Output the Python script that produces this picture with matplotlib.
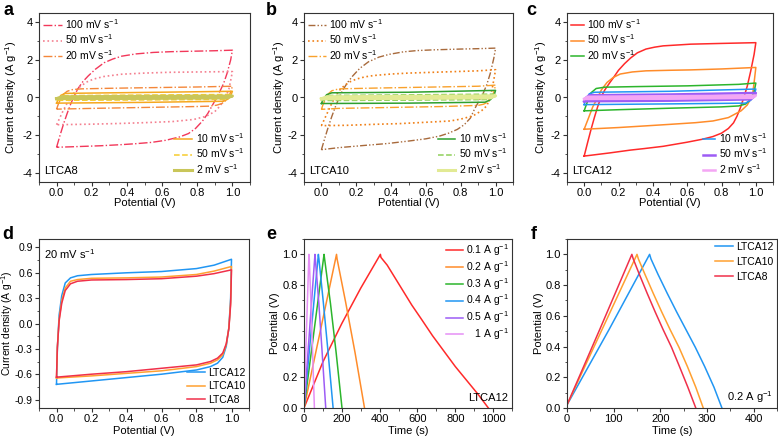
import numpy as np
import matplotlib
matplotlib.use("Agg")
import matplotlib.pyplot as plt
from matplotlib.ticker import MultipleLocator, AutoMinorLocator

plt.rcParams["font.family"] = ["Liberation Sans", "DejaVu Sans"]
plt.rcParams["mathtext.default"] = "regular"
plt.rcParams["axes.unicode_minus"] = False
plt.rcParams["font.size"] = 8

# ---------------- data ----------------
# panel a, LTCA8 CV loops: anodic branch (V up) then cathodic branch (V down)
a100_up_v = [0, 0.02, 0.04, 0.06, 0.08, 0.1, 0.12, 0.15, 0.18, 0.22, 0.27, 0.32, 0.37, 0.45, 0.55, 0.65, 0.8, 0.9, 1.0]
a100_up_i = [-2.65, -2.0, -1.4, -0.85, -0.35, 0.08, 0.45, 0.85, 1.15, 1.5, 1.85, 2.05, 2.2, 2.32, 2.4, 2.44, 2.47, 2.49, 2.52]
a100_lo_v = [1.0, 0.99, 0.97, 0.95, 0.92, 0.89, 0.86, 0.83, 0.79, 0.75, 0.7, 0.62, 0.54, 0.45, 0.37, 0.25, 0.1, 0]
a100_lo_i = [2.52, 2.0, 1.3, 0.75, 0.15, -0.35, -0.85, -1.25, -1.65, -1.92, -2.1, -2.28, -2.39, -2.46, -2.51, -2.57, -2.62, -2.65]
a50_up_v = [0, 0.02, 0.04, 0.06, 0.08, 0.1, 0.13, 0.17, 0.21, 0.27, 0.37, 0.5, 0.63, 0.8, 1.0]
a50_up_i = [-1.45, -1.05, -0.65, -0.3, 0.0, 0.25, 0.55, 0.82, 0.98, 1.12, 1.24, 1.3, 1.34, 1.36, 1.38]
a50_lo_v = [1.0, 0.99, 0.98, 0.96, 0.93, 0.9, 0.85, 0.78, 0.66, 0.5, 0.37, 0.2, 0]
a50_lo_i = [1.38, 0.9, 0.45, 0.0, -0.45, -0.75, -1.0, -1.17, -1.28, -1.34, -1.38, -1.42, -1.45]
a20_up_v = [0, 0.01, 0.025, 0.04, 0.06, 0.09, 0.14, 0.3, 0.5, 0.8, 1.0]
a20_up_i = [-0.62, -0.35, -0.05, 0.18, 0.33, 0.42, 0.46, 0.49, 0.52, 0.56, 0.6]
a20_lo_v = [1.0, 0.99, 0.98, 0.96, 0.94, 0.91, 0.87, 0.8, 0.5, 0.2, 0]
a20_lo_i = [0.6, 0.3, 0.05, -0.18, -0.32, -0.41, -0.46, -0.48, -0.53, -0.58, -0.62]
a10_up_v = [0, 0.01, 0.025, 0.05, 0.5, 1.0]
a10_up_i = [-0.3, -0.08, 0.12, 0.22, 0.27, 0.33]
a10_lo_v = [1.0, 0.99, 0.975, 0.95, 0.5, 0]
a10_lo_i = [0.33, 0.1, -0.08, -0.2, -0.26, -0.3]
a5_up_v = [0, 0.01, 0.025, 0.05, 0.5, 1.0]
a5_up_i = [-0.15, -0.04, 0.06, 0.1, 0.13, 0.16]
a5_lo_v = [1.0, 0.99, 0.975, 0.95, 0.5, 0]
a5_lo_i = [0.16, 0.05, -0.05, -0.1, -0.13, -0.15]
a2_up_v = [0, 0.03, 0.5, 1.0]
a2_up_i = [-0.06, 0.04, 0.06, 0.08]
a2_lo_v = [1.0, 0.97, 0.5, 0]
a2_lo_i = [0.08, -0.02, -0.05, -0.06]

# panel b, LTCA10
b100_up_v = [0, 0.02, 0.04, 0.06, 0.08, 0.1, 0.12, 0.15, 0.18, 0.22, 0.27, 0.33, 0.39, 0.47, 0.55, 0.65, 0.8, 0.9, 1.0]
b100_up_i = [-2.78, -2.15, -1.55, -1.0, -0.5, -0.05, 0.35, 0.8, 1.15, 1.55, 1.9, 2.15, 2.3, 2.43, 2.5, 2.54, 2.58, 2.6, 2.63]
b100_lo_v = [1.0, 0.99, 0.97, 0.95, 0.93, 0.91, 0.88, 0.855, 0.82, 0.78, 0.73, 0.68, 0.6, 0.5, 0.38, 0.25, 0.1, 0]
b100_lo_i = [2.63, 2.1, 1.3, 0.7, 0.25, -0.1, -0.6, -1.1, -1.45, -1.7, -1.9, -2.05, -2.2, -2.32, -2.45, -2.55, -2.67, -2.78]
b50_up_v = [0, 0.02, 0.04, 0.06, 0.08, 0.1, 0.13, 0.16, 0.2, 0.25, 0.3, 0.4, 0.5, 0.7, 0.9, 1.0]
b50_up_i = [-1.5, -1.1, -0.7, -0.3, 0.05, 0.35, 0.62, 0.82, 0.98, 1.1, 1.17, 1.25, 1.3, 1.36, 1.42, 1.48]
b50_lo_v = [1.0, 0.99, 0.98, 0.97, 0.95, 0.92, 0.87, 0.8, 0.74, 0.6, 0.45, 0.3, 0.15, 0]
b50_lo_i = [1.48, 0.95, 0.45, 0.05, -0.44, -0.7, -0.98, -1.15, -1.25, -1.32, -1.39, -1.43, -1.48, -1.5]
b20_up_v = [0, 0.01, 0.025, 0.04, 0.06, 0.1, 0.3, 0.6, 0.9, 1.0]
b20_up_i = [-0.63, -0.36, -0.05, 0.2, 0.36, 0.46, 0.5, 0.55, 0.6, 0.66]
b20_lo_v = [1.0, 0.99, 0.98, 0.96, 0.93, 0.9, 0.7, 0.4, 0.1, 0]
b20_lo_i = [0.66, 0.3, 0.02, -0.22, -0.36, -0.42, -0.48, -0.53, -0.58, -0.63]
b10_up_v = [0, 0.01, 0.03, 0.06, 0.5, 1.0]
b10_up_i = [-0.32, -0.1, 0.15, 0.25, 0.28, 0.38]
b10_lo_v = [1.0, 0.99, 0.97, 0.94, 0.5, 0]
b10_lo_i = [0.38, 0.1, -0.12, -0.25, -0.3, -0.32]
b5_up_v = [0, 0.02, 0.05, 0.5, 1.0]
b5_up_i = [-0.16, 0.03, 0.11, 0.14, 0.18]
b5_lo_v = [1.0, 0.98, 0.95, 0.5, 0]
b5_lo_i = [0.18, 0.0, -0.11, -0.14, -0.16]
b2_up_v = [0, 0.03, 0.5, 1.0]
b2_up_i = [-0.07, 0.04, 0.06, 0.09]
b2_lo_v = [1.0, 0.97, 0.5, 0]
b2_lo_i = [0.09, -0.02, -0.05, -0.07]

# panel c, LTCA12
c100_up_v = [0, 0.02, 0.04, 0.06, 0.08, 0.1, 0.12, 0.15, 0.17, 0.2, 0.235, 0.27, 0.31, 0.36, 0.41, 0.46, 0.55, 0.62, 0.8, 1.0]
c100_up_i = [-3.12, -2.4, -1.7, -1.05, -0.45, 0.05, 0.4, 0.8, 1.05, 1.45, 1.8, 2.1, 2.38, 2.58, 2.68, 2.75, 2.8, 2.84, 2.88, 2.92]
c100_lo_v = [1.0, 0.99, 0.97, 0.95, 0.93, 0.91, 0.89, 0.87, 0.84, 0.8, 0.75, 0.69, 0.6, 0.46, 0.35, 0.27, 0.15, 0]
c100_lo_i = [2.92, 2.3, 1.4, 0.6, 0.0, -0.55, -1.0, -1.35, -1.65, -1.9, -2.08, -2.22, -2.38, -2.6, -2.72, -2.8, -2.95, -3.12]
c50_up_v = [0, 0.025, 0.05, 0.076, 0.1, 0.133, 0.17, 0.21, 0.28, 0.36, 0.5, 0.62, 0.8, 1.0]
c50_up_i = [-1.69, -1.1, -0.5, -0.05, 0.4, 0.8, 1.07, 1.25, 1.36, 1.42, 1.45, 1.47, 1.52, 1.6]
c50_lo_v = [1.0, 0.99, 0.98, 0.95, 0.914, 0.84, 0.75, 0.65, 0.5, 0.36, 0.2, 0]
c50_lo_i = [1.6, 0.8, 0.09, -0.4, -0.71, -1.07, -1.25, -1.34, -1.43, -1.51, -1.6, -1.69]
c20_up_v = [0, 0.01, 0.02, 0.04, 0.07, 0.12, 0.3, 0.6, 0.9, 1.0]
c20_up_i = [-0.71, -0.45, -0.2, 0.25, 0.48, 0.55, 0.58, 0.62, 0.7, 0.77]
c20_lo_v = [1.0, 0.99, 0.97, 0.94, 0.9, 0.8, 0.5, 0.2, 0]
c20_lo_i = [0.77, 0.3, -0.1, -0.35, -0.45, -0.5, -0.57, -0.65, -0.71]
c10_up_v = [0, 0.01, 0.03, 0.06, 0.5, 1.0]
c10_up_i = [-0.38, -0.1, 0.2, 0.28, 0.33, 0.45]
c10_lo_v = [1.0, 0.99, 0.97, 0.94, 0.5, 0]
c10_lo_i = [0.45, 0.1, -0.15, -0.3, -0.34, -0.38]
c5_up_v = [0, 0.01, 0.03, 0.5, 1.0]
c5_up_i = [-0.2, -0.02, 0.12, 0.16, 0.24]
c5_lo_v = [1.0, 0.99, 0.97, 0.5, 0]
c5_lo_i = [0.24, 0.05, -0.1, -0.17, -0.2]
c2_up_v = [0, 0.02, 0.5, 1.0]
c2_up_i = [-0.08, 0.04, 0.07, 0.1]
c2_lo_v = [1.0, 0.98, 0.5, 0]
c2_lo_i = [0.1, -0.02, -0.06, -0.08]

# panel d, 20 mV/s comparison
d_up_v = [0, 0.005, 0.015, 0.03, 0.05, 0.08, 0.12, 0.2, 0.4, 0.6, 0.8, 0.9, 1.0]
d_lo_v = [1.0, 0.995, 0.985, 0.97, 0.95, 0.92, 0.88, 0.8, 0.6, 0.4, 0.2, 0]
d12_up_i = [-0.72, -0.3, 0.1, 0.33, 0.48, 0.54, 0.565, 0.58, 0.6, 0.615, 0.65, 0.69, 0.76]
d12_lo_i = [0.76, 0.3, -0.05, -0.27, -0.4, -0.47, -0.51, -0.55, -0.6, -0.64, -0.68, -0.72]
d10_up_i = [-0.645, -0.28, 0.05, 0.27, 0.42, 0.5, 0.52, 0.535, 0.54, 0.55, 0.58, 0.62, 0.675]
d10_lo_i = [0.675, 0.25, -0.05, -0.25, -0.37, -0.43, -0.47, -0.51, -0.56, -0.59, -0.62, -0.645]
d8_up_i = [-0.635, -0.28, 0.03, 0.24, 0.39, 0.47, 0.5, 0.515, 0.52, 0.53, 0.56, 0.59, 0.635]
d8_lo_i = [0.635, 0.22, -0.06, -0.24, -0.35, -0.41, -0.45, -0.49, -0.53, -0.57, -0.6, -0.635]

# panel e, GCD of LTCA12 at different current densities (time s, potential V)
e01_t = [0, 100, 200, 300, 404, 407, 440, 480, 520, 570, 620, 680, 740, 800, 860, 920, 975]
e01_v = [0, 0.3, 0.55, 0.78, 1.0, 0.98, 0.93, 0.85, 0.77, 0.67, 0.58, 0.47, 0.37, 0.27, 0.18, 0.09, 0]
e02_t = [0, 172, 175, 220, 270, 320]
e02_v = [0, 1.0, 0.97, 0.69, 0.36, 0]
e03_t = [0, 106, 109, 140, 170, 201]
e03_v = [0, 1.0, 0.97, 0.68, 0.36, 0]
e04_t = [0, 76, 79, 102, 126, 154]
e04_v = [0, 1.0, 0.97, 0.69, 0.38, 0]
e05_t = [0, 58, 60, 78, 95, 115]
e05_v = [0, 1.0, 0.97, 0.69, 0.38, 0]
e1_t = [0, 26, 28, 40, 55]
e1_v = [0, 1.0, 0.97, 0.57, 0]

# panel f, GCD at 0.2 A/g
f12_t = [0, 90, 177, 180, 195, 215, 235, 255, 275, 295, 315, 332]
f12_v = [0.02, 0.51, 1.0, 0.97, 0.87, 0.745, 0.625, 0.51, 0.395, 0.27, 0.135, 0]
f10_t = [0, 75, 150, 153, 167, 185, 203, 221, 240, 258, 276, 292]
f10_v = [0.02, 0.51, 1.0, 0.97, 0.87, 0.745, 0.625, 0.51, 0.395, 0.27, 0.135, 0]
f8_t = [0, 70, 139, 142, 155, 172, 189, 206, 224, 241, 259, 276]
f8_v = [0.02, 0.51, 1.0, 0.97, 0.87, 0.745, 0.625, 0.51, 0.395, 0.27, 0.135, 0]

sr_top = ["100 mV s$^{-1}$", "50 mV s$^{-1}$", "20 mV s$^{-1}$"]
sr_bot = ["10 mV s$^{-1}$", "50 mV s$^{-1}$", "2 mV s$^{-1}$"]
gcd_labels = ["0.1 A g$^{-1}$", "0.2 A g$^{-1}$", "0.3 A g$^{-1}$",
              "0.4 A g$^{-1}$", "0.5 A g$^{-1}$", "   1 A g$^{-1}$"]
samples = ["LTCA12", "LTCA10", "LTCA8"]

# ---------------- figure ----------------
W, H = 778, 440
fig = plt.figure(figsize=(W / 100, H / 100), dpi=100)


def px_axes(l, t, r, b):
    return fig.add_axes([l / W, 1 - b / H, (r - l) / W, (b - t) / H])


def style(ax, ylab_px):
    for s in ax.spines.values():
        s.set_color("#333333")
        s.set_linewidth(0.8)
    ax.tick_params(which="both", direction="out", top=False, right=False,
                   color="#333333", labelsize=8, pad=1.5)
    ax.tick_params(which="major", length=3, width=0.8)
    ax.tick_params(which="minor", length=1.8, width=0.6)
    ax.xaxis.set_minor_locator(AutoMinorLocator(2))
    ax.yaxis.set_minor_locator(AutoMinorLocator(2))
    # y label position, pixels left of the axes
    w = ax.get_position().width * W
    ax.yaxis.set_label_coords(-ylab_px / w, 0.5)


def leg(ax, h, labels, loc, hl=1.8, ls=0.0, bap=0.2):
    return ax.legend(h, labels, loc=loc, frameon=False, handlelength=hl,
                     handletextpad=0.3, labelspacing=ls, borderpad=0.2,
                     borderaxespad=bap, fontsize=7.5)


def loop(ax, uv, ui, lv, li, **kw):
    return ax.plot(uv + lv, ui + li, **kw)[0]


def cv_panel(ax, curves, tag, hl, ylab_px):
    h = []
    for uv, ui, lv, li, kw in curves:
        h.append(loop(ax, uv, ui, lv, li, **kw))
    ax.set_xlim(-0.1, 1.1)
    ax.set_ylim(-4.5, 4.5)
    ax.xaxis.set_major_locator(MultipleLocator(0.2))
    ax.yaxis.set_major_locator(MultipleLocator(2))
    ax.xaxis.set_major_formatter(plt.FormatStrFormatter("%.1f"))
    ax.set_xlabel("Potential (V)", labelpad=0)
    ax.set_ylabel("Current density (A g$^{-1}$)")
    ax.add_artist(leg(ax, h[:3], sr_top, "upper left", hl, 0.15, 0.2))
    leg(ax, h[3:], sr_bot, "lower right", hl, 0.15, 0.4)
    ax.text(0.025, 0.045, tag, transform=ax.transAxes, fontsize=8)
    style(ax, ylab_px)


ax_a = px_axes(39, 13, 250, 182)
cv_panel(ax_a, [
    (a100_up_v, a100_up_i, a100_lo_v, a100_lo_i, dict(color="#f2385a", ls="-.", lw=1)),
    (a50_up_v, a50_up_i, a50_lo_v, a50_lo_i, dict(color="#f48090", ls=":", lw=1.2)),
    (a20_up_v, a20_up_i, a20_lo_v, a20_lo_i, dict(color="#f4873a", ls="-.", lw=1)),
    (a10_up_v, a10_up_i, a10_lo_v, a10_lo_i, dict(color="#f6a81f", ls="-", lw=1.1)),
    (a5_up_v, a5_up_i, a5_lo_v, a5_lo_i, dict(color="#f7cc2e", ls="--", lw=1.1)),
    (a2_up_v, a2_up_i, a2_lo_v, a2_lo_i, dict(color="#c9c65a", ls="-", lw=2.2)),
], "LTCA8", 1.8, 20)

ax_b = px_axes(304, 13, 513, 182)
cv_panel(ax_b, [
    (b100_up_v, b100_up_i, b100_lo_v, b100_lo_i,
     dict(color="#a86a3c", ls=(0, (5, 1.5, 1, 1.5, 1, 1.5)), lw=1)),
    (b50_up_v, b50_up_i, b50_lo_v, b50_lo_i, dict(color="#f08018", ls=":", lw=1.2)),
    (b20_up_v, b20_up_i, b20_lo_v, b20_lo_i, dict(color="#f9a12c", ls="-.", lw=1)),
    (b10_up_v, b10_up_i, b10_lo_v, b10_lo_i, dict(color="#2ea02e", ls="-", lw=1.1)),
    (b5_up_v, b5_up_i, b5_lo_v, b5_lo_i, dict(color="#8fd05a", ls="--", lw=1.1)),
    (b2_up_v, b2_up_i, b2_lo_v, b2_lo_i, dict(color="#e2ea94", ls="-", lw=2.2)),
], "LTCA10", 1.7, 17)

ax_c = px_axes(567, 13, 773, 182)
cv_panel(ax_c, [
    (c100_up_v, c100_up_i, c100_lo_v, c100_lo_i, dict(color="#ff2a2a", lw=1.1)),
    (c50_up_v, c50_up_i, c50_lo_v, c50_lo_i, dict(color="#ff8c2a", lw=1.1)),
    (c20_up_v, c20_up_i, c20_lo_v, c20_lo_i, dict(color="#2cb52c", lw=1.1)),
    (c10_up_v, c10_up_i, c10_lo_v, c10_lo_i, dict(color="#2196f3", lw=1.1)),
    (c5_up_v, c5_up_i, c5_lo_v, c5_lo_i, dict(color="#9d5cf5", lw=1.8)),
    (c2_up_v, c2_up_i, c2_lo_v, c2_lo_i, dict(color="#f4a6f4", lw=1.8)),
], "LTCA12", 1.2, 18)

# panel d
ax_d = px_axes(39, 239, 249, 408)
hd = [loop(ax_d, d_up_v, d12_up_i, d_lo_v, d12_lo_i, color="#2196f3", lw=1.1),
      loop(ax_d, d_up_v, d10_up_i, d_lo_v, d10_lo_i, color="#ffa030", lw=1.1),
      loop(ax_d, d_up_v, d8_up_i, d_lo_v, d8_lo_i, color="#f0304a", lw=1.1)]
ax_d.set_xlim(-0.1, 1.1)
ax_d.set_ylim(-1.0, 1.0)
ax_d.xaxis.set_major_locator(MultipleLocator(0.2))
ax_d.yaxis.set_major_locator(MultipleLocator(0.3))
ax_d.xaxis.set_major_formatter(plt.FormatStrFormatter("%.1f"))
ax_d.yaxis.set_major_formatter(plt.FormatStrFormatter("%.1f"))
ax_d.set_xlabel("Potential (V)", labelpad=1)
ax_d.set_ylabel("Current density (A g$^{-1}$)", fontsize=7.5)
leg(ax_d, hd, samples, "lower right", 1.8, 0.35, 0.1)
ax_d.text(0.025, 0.95, "20 mV s$^{-1}$", transform=ax_d.transAxes, fontsize=8, va="top")
style(ax_d, 23.5)
ax_d.tick_params(axis="y", labelsize=7.5)

# panel e
ax_e = px_axes(304, 239, 512, 408)
e_cols = ["#ff2a2a", "#ff8c2a", "#2cb52c", "#2196f3", "#9d5cf5", "#e58ff5"]
he = []
for (t, v), c in zip([(e01_t, e01_v), (e02_t, e02_v), (e03_t, e03_v),
                      (e04_t, e04_v), (e05_t, e05_v), (e1_t, e1_v)], e_cols):
    he.append(ax_e.plot(t, v, color=c, lw=1.1)[0])
ax_e.set_xlim(0, 1100)
ax_e.set_ylim(0, 1.1)
ax_e.xaxis.set_major_locator(MultipleLocator(200))
ax_e.yaxis.set_major_locator(MultipleLocator(0.2))
ax_e.yaxis.set_major_formatter(plt.FormatStrFormatter("%.1f"))
ax_e.set_xlabel("Time (s)", labelpad=1)
ax_e.set_ylabel("Potential (V)")
leg(ax_e, he, gcd_labels, "upper right", 1.6, 0.1, 0.1)
ax_e.text(0.98, 0.04, "LTCA12", transform=ax_e.transAxes, fontsize=8, ha="right")
style(ax_e, 24)

# panel f
ax_f = px_axes(567, 239, 777, 408)
hf = [ax_f.plot(f12_t, f12_v, color="#2196f3", lw=1.1)[0],
      ax_f.plot(f10_t, f10_v, color="#ffa030", lw=1.1)[0],
      ax_f.plot(f8_t, f8_v, color="#f0304a", lw=1.1)[0]]
ax_f.set_xlim(0, 450)
ax_f.set_ylim(0, 1.1)
ax_f.xaxis.set_major_locator(MultipleLocator(100))
ax_f.yaxis.set_major_locator(MultipleLocator(0.2))
ax_f.yaxis.set_major_formatter(plt.FormatStrFormatter("%.1f"))
ax_f.set_xlabel("Time (s)", labelpad=1)
ax_f.set_ylabel("Potential (V)")
leg(ax_f, hf, samples, "upper right", 1.8, 0.45, 0.1)
ax_f.text(0.98, 0.04, "0.2 A g$^{-1}$", transform=ax_f.transAxes, fontsize=8, ha="right")
style(ax_f, 23)

for x, y, s in [(3, 2, "a"), (266, 2, "b"), (526, 2, "c"),
                (2, 226, "d"), (266, 226, "e"), (531, 226, "f")]:
    fig.text(x / W, 1 - y / H, s, fontsize=13, fontweight="bold", va="top")

fig.savefig("out.png", dpi=100)
